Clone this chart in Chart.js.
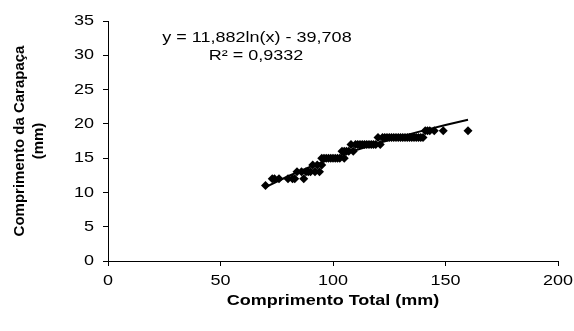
<!DOCTYPE html>
<html>
<head>
<meta charset="utf-8">
<script src="https://cdn.jsdelivr.net/npm/chart.js@4"></script>
<style>
  html, body { margin: 0; padding: 0; background: #fff; }
  #wrap { width: 574px; height: 331px; }
</style>
</head>
<body>
<div id="wrap"><canvas id="chart" width="574" height="331"></canvas></div>
<script>
// Observed points: total length (mm) vs carapace length (mm)
const totalLength = [70, 73, 74, 76, 80, 82, 83, 84, 86, 87, 88, 89, 90, 91, 92, 93, 94, 95, 95, 96,
  97, 98, 99, 100, 101, 102, 103, 104, 105, 105, 106, 107, 108, 109, 110, 111, 112, 113, 114, 115,
  116, 117, 118, 119, 120, 121, 122, 123, 124, 125, 126, 127, 128, 129, 130, 131, 132, 133, 134, 135,
  136, 137, 138, 139, 140, 141, 142, 143, 145, 149, 160];
const carapaceLength = [11, 12, 12, 12, 12, 12, 12, 13, 13, 12, 13, 13, 13, 14, 13, 14, 13, 14, 15, 15,
  15, 15, 15, 15, 15, 15, 15, 16, 15, 16, 16, 16, 17, 16, 17, 17, 17, 17, 17, 17,
  17, 17, 17, 17, 18, 17, 18, 18, 18, 18, 18, 18, 18, 18, 18, 18, 18, 18, 18, 18,
  18, 18, 18, 18, 18, 19, 19, 19, 19, 19, 19];

// Logarithmic trendline as printed on the chart
const trendA = 11.882;
const trendB = -39.708;
const trendX = [70, 80, 90, 100, 110, 120, 130, 140, 150, 160];
const trendLabel = ['y = 11,882ln(x) - 39,708', 'R\u00b2 = 0,9332'];

const xTicks = [0, 50, 100, 150, 200];
const yTicks = [0, 5, 10, 15, 20, 25, 30, 35];

const FONT = 'Arial, "Liberation Sans", sans-serif';
const STRETCH = 1.2; // the original text is a bit wider than plain Arial

const points = totalLength.map((x, i) => ({ x: x, y: carapaceLength[i] }));
const trendPoints = trendX.map(x => ({ x: x, y: trendA * Math.log(x) + trendB }));

function wideText(ctx, text, x, y) {
  ctx.save();
  ctx.translate(x, y);
  ctx.scale(STRETCH, 1);
  ctx.fillText(text, 0, 0);
  ctx.restore();
}

// Tick labels, axis titles and trendline equation drawn by hand
const labelsPlugin = {
  id: 'labels',
  afterDraw(chart) {
    const ctx = chart.ctx;
    const area = chart.chartArea;
    const xs = chart.scales.x;
    const ys = chart.scales.y;
    ctx.save();
    ctx.fillStyle = '#000';
    ctx.textBaseline = 'middle';

    ctx.font = '15px ' + FONT;
    ctx.textAlign = 'right';
    yTicks.forEach(v => wideText(ctx, String(v), 94, ys.getPixelForValue(v)));
    ctx.textAlign = 'center';
    xTicks.forEach(v => wideText(ctx, String(v), xs.getPixelForValue(v), 281));

    wideText(ctx, trendLabel[0], 257, 38);
    wideText(ctx, trendLabel[1], 256, 56);

    ctx.font = 'bold 15px ' + FONT;
    wideText(ctx, 'Comprimento Total (mm)', (area.left + area.right) / 2, 301);

    ctx.translate(20, 141);
    ctx.rotate(-Math.PI / 2);
    ctx.fillText('Comprimento da Carapaça', 0, 0);
    ctx.fillText('(mm)', 0, 19);
    ctx.restore();
  }
};

new Chart(document.getElementById('chart'), {
  type: 'scatter',
  data: {
    datasets: [{
      label: 'Dados',
      data: points,
      backgroundColor: '#000',
      borderColor: '#000',
      pointStyle: 'rectRot',
      pointRadius: 4.5,
      borderWidth: 0
    }, {
      type: 'line',
      label: 'Tendência',
      data: trendPoints,
      borderColor: '#000',
      borderWidth: 2,
      pointRadius: 0,
      fill: false,
      tension: 0
    }]
  },
  options: {
    responsive: false,
    animation: false,
    layout: { padding: { left: 0, right: 16, top: 21, bottom: 0 } },
    plugins: {
      legend: { display: false },
      tooltip: { enabled: false }
    },
    scales: {
      x: {
        type: 'linear',
        min: 0,
        max: 200,
        afterFit(scale) { scale.height = 70; },
        afterBuildTicks(scale) { scale.ticks = xTicks.map(v => ({ value: v })); },
        ticks: { display: false },
        grid: { drawOnChartArea: false, color: '#000', tickLength: 5 },
        border: { color: '#000', width: 1 }
      },
      y: {
        type: 'linear',
        min: 0,
        max: 35,
        afterFit(scale) { scale.width = 108; },
        afterBuildTicks(scale) { scale.ticks = yTicks.map(v => ({ value: v })); },
        ticks: { display: false },
        grid: { drawOnChartArea: false, color: '#000', tickLength: 5 },
        border: { color: '#000', width: 1 }
      }
    }
  },
  plugins: [labelsPlugin]
});
</script>
</body>
</html>
